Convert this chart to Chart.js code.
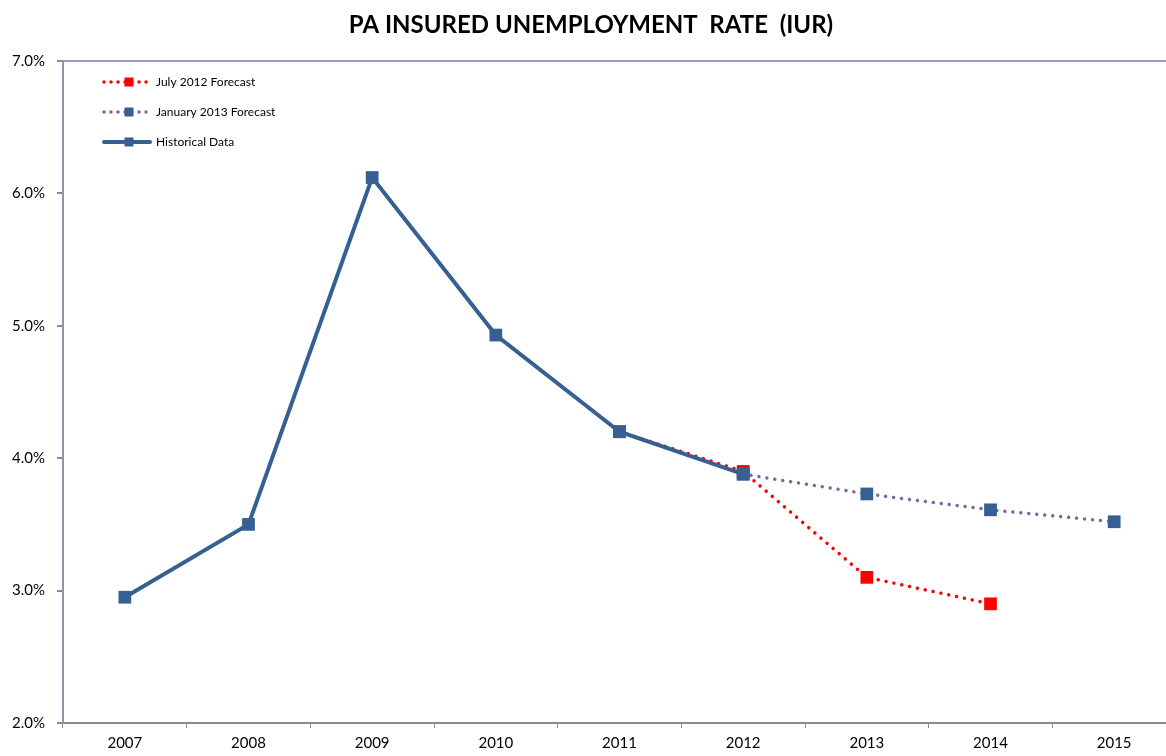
<!DOCTYPE html>
<html>
<head>
<meta charset="utf-8">
<script src="https://cdn.jsdelivr.net/npm/chart.js@4"></script>
<style>
  html, body { margin: 0; padding: 0; background: #fff; overflow: hidden; }
  #wrap { width: 1185px; height: 756px; }
</style>
</head>
<body>
<div id="wrap"><canvas id="chart"></canvas></div>
<script>
// data
const years = ["2007", "2008", "2009", "2010", "2011", "2012", "2013", "2014", "2015"];
const historical = [2.95, 3.50, 6.12, 4.93, 4.20, 3.88, null, null, null];
const july2012 = [null, null, null, null, 4.20, 3.90, 3.10, 2.90, null];
const jan2013 = [null, null, null, null, null, 3.88, 3.73, 3.61, 3.52];
const yTicks = [2, 3, 4, 5, 6, 7];

const BLUE = "#376092";
const RED = "#ff0000";
const PURPLE = "#8064a2";
const FONT = "Lato, 'Open Sans', sans-serif";

// legend drawn inside plot area, top-left
const legendItems = [
  { label: "July 2012 Forecast", line: RED, dotted: true, marker: RED },
  { label: "January 2013 Forecast", line: PURPLE, dotted: true, marker: BLUE },
  { label: "Historical Data", line: BLUE, dotted: false, marker: BLUE }
];

const innerLegend = {
  id: "innerLegend",
  afterDatasetsDraw(chart) {
    const ctx = chart.ctx;
    const area = chart.chartArea;
    const x0 = area.left + 41, x1 = area.left + 87, xm = area.left + 66;
    ctx.save();
    legendItems.forEach((it, i) => {
      const y = area.top + 21 + i * 30;
      ctx.beginPath();
      ctx.strokeStyle = it.line;
      ctx.lineCap = "round";
      if (it.dotted) {
        ctx.lineWidth = 3.5;
        ctx.setLineDash([0.01, 7]);
      } else {
        ctx.lineWidth = 4;
        ctx.setLineDash([]);
      }
      ctx.moveTo(x0, y);
      ctx.lineTo(x1, y);
      ctx.stroke();
      ctx.setLineDash([]);
      ctx.fillStyle = it.marker;
      ctx.fillRect(xm - 4.5, y - 4.5, 9, 9);
      ctx.fillStyle = "#000";
      ctx.font = "12px " + FONT;
      ctx.textBaseline = "middle";
      ctx.textAlign = "left";
      ctx.fillText(it.label, x1 + 6, y);
    });
    ctx.restore();
  }
};

const ctx = document.getElementById("chart").getContext("2d");
new Chart(ctx, {
  type: "line",
  data: {
    labels: years,
    datasets: [
      {
        label: "Historical Data",
        data: historical,
        borderColor: BLUE,
        backgroundColor: BLUE,
        borderWidth: 4,
        pointStyle: "rect",
        pointRadius: 9,
        pointBorderWidth: 0,
        order: 0
      },
      {
        label: "January 2013 Forecast",
        data: jan2013,
        borderColor: PURPLE,
        backgroundColor: BLUE,
        pointBorderColor: BLUE,
        borderWidth: 3.5,
        borderDash: [0.01, 8],
        borderCapStyle: "round",
        pointStyle: "rect",
        pointRadius: 9,
        pointBorderWidth: 0,
        order: 1
      },
      {
        label: "July 2012 Forecast",
        data: july2012,
        borderColor: RED,
        backgroundColor: RED,
        borderWidth: 3.5,
        borderDash: [0.01, 8],
        borderCapStyle: "round",
        pointStyle: "rect",
        pointRadius: 9,
        pointBorderWidth: 0,
        order: 2
      }
    ]
  },
  options: {
    responsive: true,
    maintainAspectRatio: false,
    animation: false,
    spanGaps: false,
    layout: { padding: { left: 0, right: 3, top: 0, bottom: 0 } },
    plugins: {
      legend: { display: false },
      tooltip: { enabled: false },
      title: {
        display: true,
        text: "PA INSURED UNEMPLOYMENT  RATE  (IUR)",
        color: "#000",
        font: { family: FONT, size: 24, weight: "bold" },
        padding: { top: 10.6, bottom: 21.6 }
      }
    },
    scales: {
      x: {
        offset: true,
        grid: {
          offset: true,
          drawOnChartArea: false,
          drawTicks: true,
          tickLength: 5,
          tickColor: "#8c8894"
        },
        border: { color: "#8c8894", width: 2 },
        ticks: {
          color: "#000",
          font: { family: FONT, size: 15 },
          padding: 6,
          maxRotation: 0
        },
        afterFit(s) { s.height = 33; }
      },
      y: {
        min: 2,
        max: 7,
        afterBuildTicks(s) { s.ticks = yTicks.map(v => ({ value: v })); },
        grid: {
          color: c => (c.tick && c.tick.value === 7 ? "#a896c8" : "transparent"),
          lineWidth: 2,
          drawTicks: true,
          tickLength: 6,
          tickColor: "#8c8894"
        },
        border: { color: "#9890a6", width: 2 },
        ticks: {
          color: "#000",
          font: { family: FONT, size: 15 },
          padding: 12,
          callback: v => v.toFixed(1) + "%"
        },
        afterFit(s) { s.width = 63; }
      }
    }
  },
  plugins: [innerLegend]
});
</script>
</body>
</html>
